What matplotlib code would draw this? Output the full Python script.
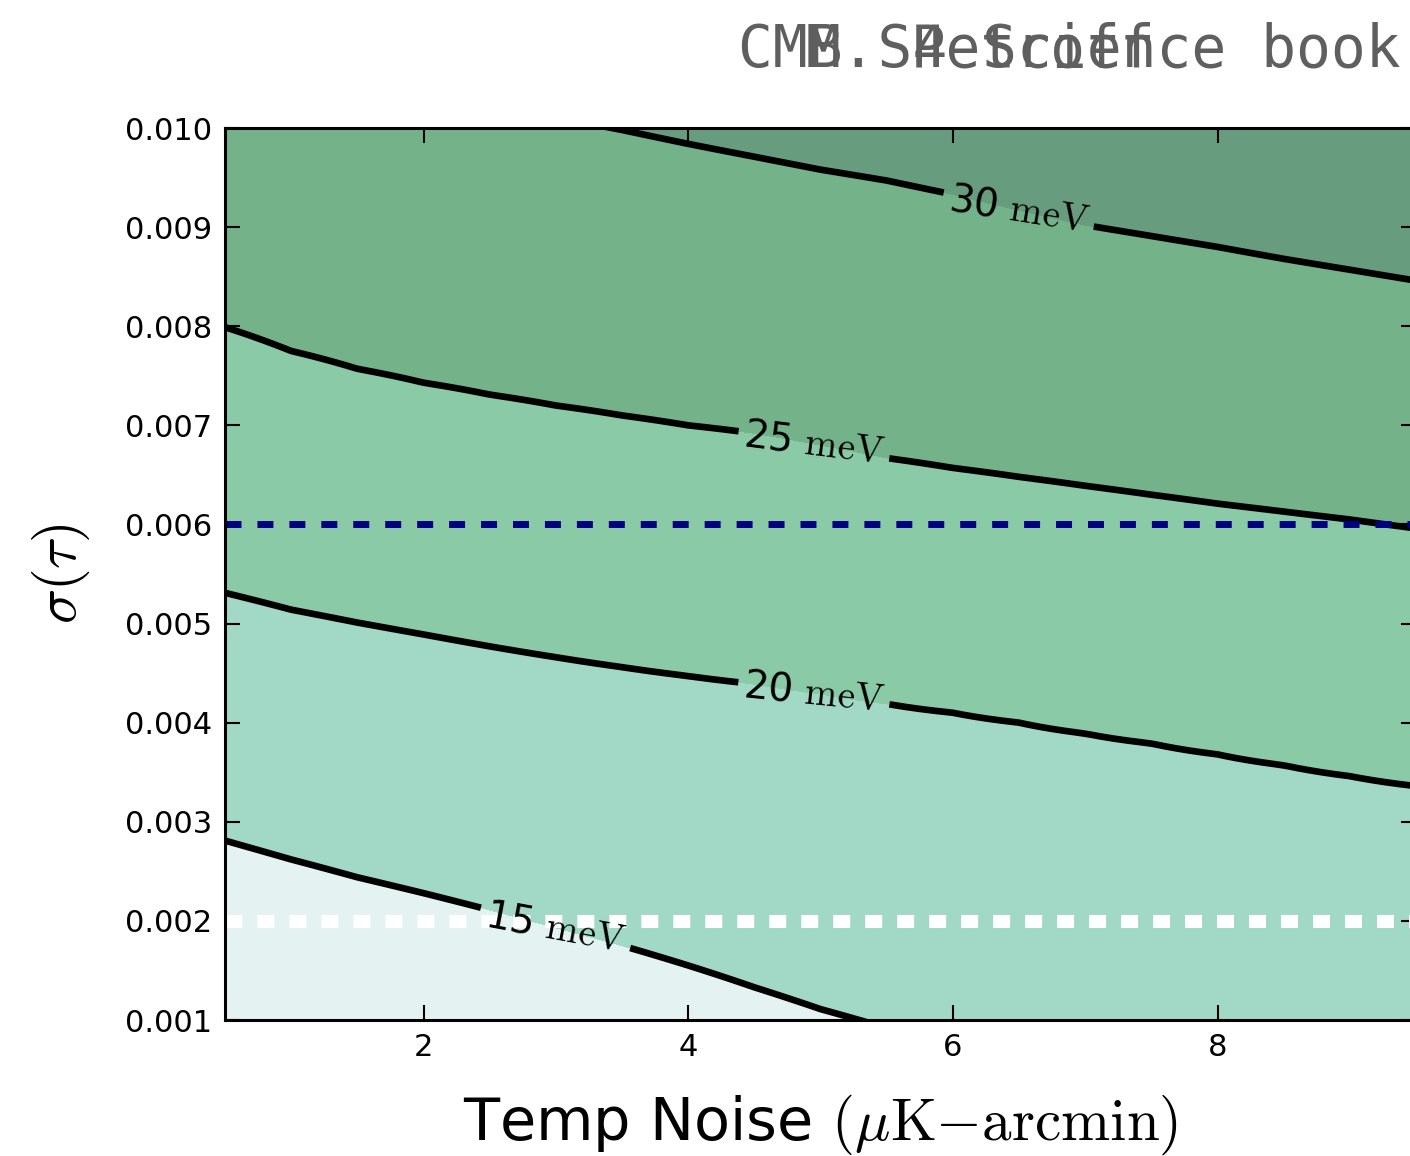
import numpy as np
import matplotlib
matplotlib.use('Agg')
import matplotlib.pyplot as plt

plt.rcParams['mathtext.fontset'] = 'cm'

# temperature noise grid (muK-arcmin)
noise = [0.5, 1.0, 1.5, 2.0, 2.5, 3.0, 3.5, 4.0, 4.5, 5.0,
         5.5, 6.0, 6.5, 7.0, 7.5, 8.0, 8.5, 9.0, 9.5]

# sigma(tau) at which sigma(m_nu) reaches each level, per noise value
tau_15 = [0.00281, 0.00262, 0.00244, 0.00228, 0.00211, 0.00193, 0.00175, 0.00155, 0.00133, 0.00111,
          0.00092, 0.00076, 0.00062, 0.00049, 0.00037, 0.00025, 0.00014, 0.00004, -0.00006]
tau_20 = [0.00531, 0.00514, 0.00501, 0.00489, 0.00477, 0.00466, 0.00456, 0.00447, 0.00439, 0.00429,
          0.00419, 0.00410, 0.00400, 0.00389, 0.00379, 0.00368, 0.00357, 0.00346, 0.00336]
tau_25 = [0.00799, 0.00775, 0.00757, 0.00743, 0.00731, 0.00720, 0.00710, 0.00700, 0.00692, 0.00680,
          0.00667, 0.00657, 0.00648, 0.00639, 0.00630, 0.00621, 0.00613, 0.00605, 0.00596]
tau_30 = [0.01100, 0.01076, 0.01057, 0.01040, 0.01025, 0.01011, 0.00998, 0.00984, 0.00971, 0.00958,
          0.00947, 0.00933, 0.00917, 0.00902, 0.00891, 0.00880, 0.00868, 0.00857, 0.00846]

levels = [15, 20, 25, 30]
fill_levels = [0, 15, 20, 25, 30, 100]
fill_colors = ['#e4f3f1', '#a2d9c6', '#8acaa7', '#74b289', '#679d7e']

tau_fid = 0.006
tau_goal = 0.002

# build the sigma(m_nu) field column by column from the level heights,
# extending linearly below 15 meV and above 30 meV
tau_grid = np.linspace(-0.001, 0.012, 651)
Z = np.zeros((len(tau_grid), len(noise)))
for i in range(len(noise)):
    lo = tau_15[i] - 3 * (tau_20[i] - tau_15[i])
    hi = tau_30[i] + 14 * (tau_30[i] - tau_25[i])
    h = [lo, tau_15[i], tau_20[i], tau_25[i], tau_30[i], hi]
    Z[:, i] = np.interp(tau_grid, h, fill_levels)
X, Y = np.meshgrid(noise, tau_grid)

fig = plt.figure(figsize=(14.1, 11.56), dpi=100, facecolor='w')
ax = fig.add_axes([225/1410., 1-1020/1156., (1416-225)/1410., (1020-128)/1156.])

ax.contourf(X, Y, Z, levels=fill_levels, colors=fill_colors)
cs = ax.contour(X, Y, Z, levels=levels, colors='k', linewidths=4.8)

ax.axhline(tau_fid, color='#000080', lw=5, dashes=(2.3, 2.3), zorder=2.5)
ax.axhline(tau_goal, color='w', lw=9.4, dashes=(1.3, 1.15), zorder=2.5)

spots = [(3.0, 0.00195), (4.95, 0.0043), (4.95, 0.0068), (6.5, 0.0092)]
ax.clabel(cs, fmt='%d $\\mathrm{meV}$', fontsize=28, inline=True, manual=spots)

ax.set_xlim(0.5, 9.5)
ax.set_ylim(0.001, 0.010)
ax.set_xticks([2, 4, 6, 8])
ax.set_yticks(np.arange(0.001, 0.0101, 0.001))
ax.yaxis.set_major_formatter(matplotlib.ticker.FormatStrFormatter('%.3f'))
ax.tick_params(direction='in', top=True, right=True, length=11, width=1.5, labelsize=22, pad=9)
for s in ax.spines.values():
    s.set_linewidth(2.2)

ax.set_xlabel(r'Temp Noise $(\mu{\rm K}{-}{\rm arcmin})$', fontsize=42.5, labelpad=22)
ax.set_ylabel(r'$\sigma(\tau)$', fontsize=42, labelpad=24)

fig.text(738/1410., 1-67/1156., 'CMB S4 Science book', family='DejaVu Sans Mono',
         fontsize=41.8, color='#5f5f5f', va='baseline')
fig.text(806/1410., 1-67/1156., 'M. Petroff', family='DejaVu Sans Mono',
         fontsize=41.8, color='#5f5f5f', va='baseline')

fig.savefig('out.png', dpi=100)
